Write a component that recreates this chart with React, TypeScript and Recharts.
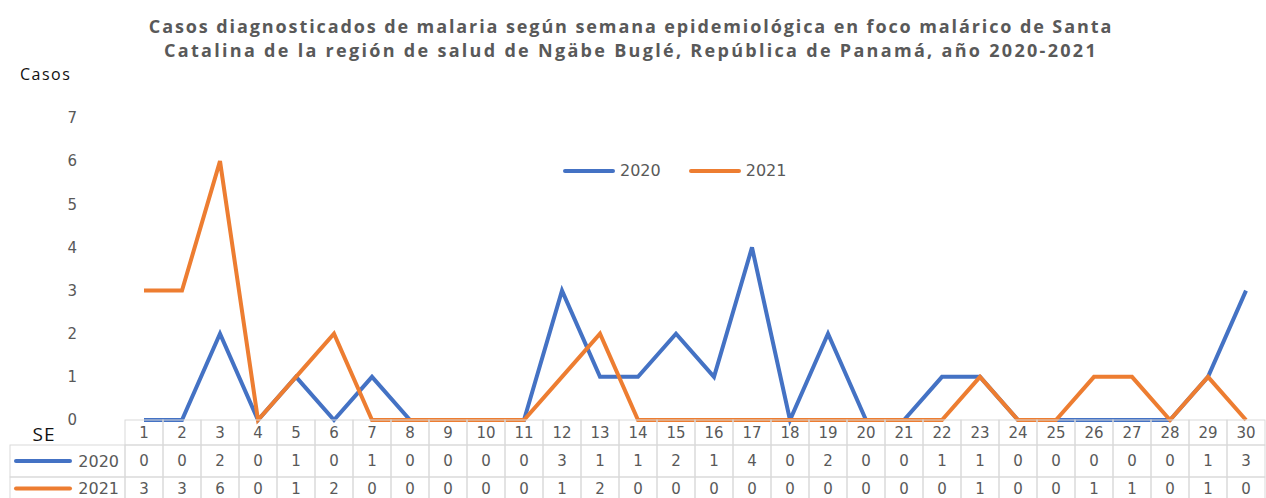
import React from 'react'
import { ComposedChart, Line, XAxis, YAxis, Legend } from 'recharts'

// semanas epidemiológicas (SE) y casos por año
const semanas = ['1', '2', '3', '4', '5', '6', '7', '8', '9', '10', '11', '12', '13', '14', '15', '16', '17', '18', '19', '20', '21', '22', '23', '24', '25', '26', '27', '28', '29', '30']
const casos2020 = [0, 0, 2, 0, 1, 0, 1, 0, 0, 0, 0, 3, 1, 1, 2, 1, 4, 0, 2, 0, 0, 1, 1, 0, 0, 0, 0, 0, 1, 3]
const casos2021 = [3, 3, 6, 0, 1, 2, 0, 0, 0, 0, 0, 1, 2, 0, 0, 0, 0, 0, 0, 0, 0, 0, 1, 0, 0, 1, 1, 0, 1, 0]
const yTicks = [0, 1, 2, 3, 4, 5, 6, 7]

const series = [
  { key: 'y2020', label: '2020', color: '#4472C4', values: casos2020 },
  { key: 'y2021', label: '2021', color: '#ED7D31', values: casos2021 },
]

const data = semanas.map((se, i) => ({ se, y2020: casos2020[i], y2021: casos2021[i] }))

const W = 1266
const H = 498
const PLOT_LEFT = 125
const PLOT_RIGHT = 1265
const PLOT_TOP = 118
const PLOT_BOTTOM = 420
const BAND = (PLOT_RIGHT - PLOT_LEFT) / semanas.length
const ROWS = [420, 445, 477, 500]
const GRID = '#d9d9d9'
const TXT = '#595959'
const NUM_FONT = '"DejaVu Sans", Verdana, sans-serif'
const UI_FONT = '"Open Sans", "Noto Sans", sans-serif'

// tabla de datos debajo del eje x (una columna por tick)
function TableTick(props: any) {
  const { x, payload } = props
  const i = payload.index
  const x0 = x - BAND / 2
  const cells = [semanas[i], casos2020[i], casos2021[i]]

  return (
    <g>
      {i === 0 && (
        <g>
          <text x={44} y={(ROWS[0] + ROWS[1]) / 2 + 1} textAnchor="middle" dominantBaseline="central"
            fontFamily={UI_FONT} fontSize={19} fill="#111" letterSpacing={1}>SE</text>
          {series.map((s, r) => {
            const top = ROWS[r + 1]
            const bottom = ROWS[r + 2]
            const mid = (top + bottom) / 2
            return (
              <g key={s.key}>
                <rect x={10} y={top} width={x0 - 10} height={bottom - top} fill="none" stroke={GRID} />
                <line x1={16} x2={70} y1={mid} y2={mid} stroke={s.color} strokeWidth={4} strokeLinecap="round" />
                <text x={119} y={mid} textAnchor="end" dominantBaseline="central"
                  fontFamily={NUM_FONT} fontSize={16} fill={TXT}>{s.label}</text>
              </g>
            )
          })}
        </g>
      )}
      {cells.map((v, r) => (
        <g key={r}>
          <rect x={x0} y={ROWS[r]} width={BAND} height={ROWS[r + 1] - ROWS[r]} fill="none" stroke={GRID} />
          <text x={x} y={(ROWS[r] + ROWS[r + 1]) / 2} textAnchor="middle" dominantBaseline="central"
            fontFamily={NUM_FONT} fontSize={15} fill={TXT}>{v}</text>
        </g>
      ))}
    </g>
  )
}

function LegendContent() {
  return (
    <div style={{ display: 'flex', alignItems: 'center', gap: 28 }}>
      {series.map((s) => (
        <div key={s.key} style={{ display: 'flex', alignItems: 'center' }}>
          <span style={{ display: 'inline-block', width: 52, height: 4, borderRadius: 2, background: s.color, marginRight: 5 }} />
          <span style={{ fontFamily: NUM_FONT, fontSize: 16, color: TXT }}>{s.label}</span>
        </div>
      ))}
    </div>
  )
}

export default function App() {
  return (
    <div style={{ position: 'absolute', left: 0, top: 0, width: W, height: H, background: '#fff' }}>
      <div style={{ position: 'absolute', left: 0, top: 14, width: 1262, textAlign: 'center', fontFamily: UI_FONT, fontWeight: 700, fontSize: 18, lineHeight: '24px', color: TXT, letterSpacing: 1.9 }}>
        <div>Casos diagnosticados de malaria según semana epidemiológica en foco malárico de Santa</div>
        <div style={{ letterSpacing: 2.3 }}>Catalina de la región de salud de Ngäbe Buglé, República de Panamá, año 2020-2021</div>
      </div>
      <div style={{ position: 'absolute', left: 20, top: 63, fontFamily: UI_FONT, fontSize: 16, color: '#111', letterSpacing: 1.5 }}>Casos</div>
      <ComposedChart width={W} height={H} data={data}
        margin={{ top: PLOT_TOP, right: W - PLOT_RIGHT, bottom: 0, left: 0 }}>
        <XAxis dataKey="se" scale="point" padding={{ left: BAND / 2, right: BAND / 2 }} height={H - PLOT_BOTTOM}
          axisLine={false} tickLine={false} interval={0} tick={<TableTick />} />
        <YAxis width={PLOT_LEFT} domain={[0, 7]} ticks={yTicks} axisLine={false} tickLine={false} tickMargin={42}
          tick={{ fill: TXT, fontSize: 15, fontFamily: NUM_FONT }} />
        <Legend layout="horizontal" verticalAlign="middle" align="center" content={<LegendContent />}
          wrapperStyle={{ top: 161, left: 563, width: 260 }} />
        {series.map((s) => (
          <Line key={s.key} type="linear" dataKey={s.key} stroke={s.color} strokeWidth={4} dot={false}
            activeDot={false} isAnimationActive={false} />
        ))}
      </ComposedChart>
    </div>
  )
}
